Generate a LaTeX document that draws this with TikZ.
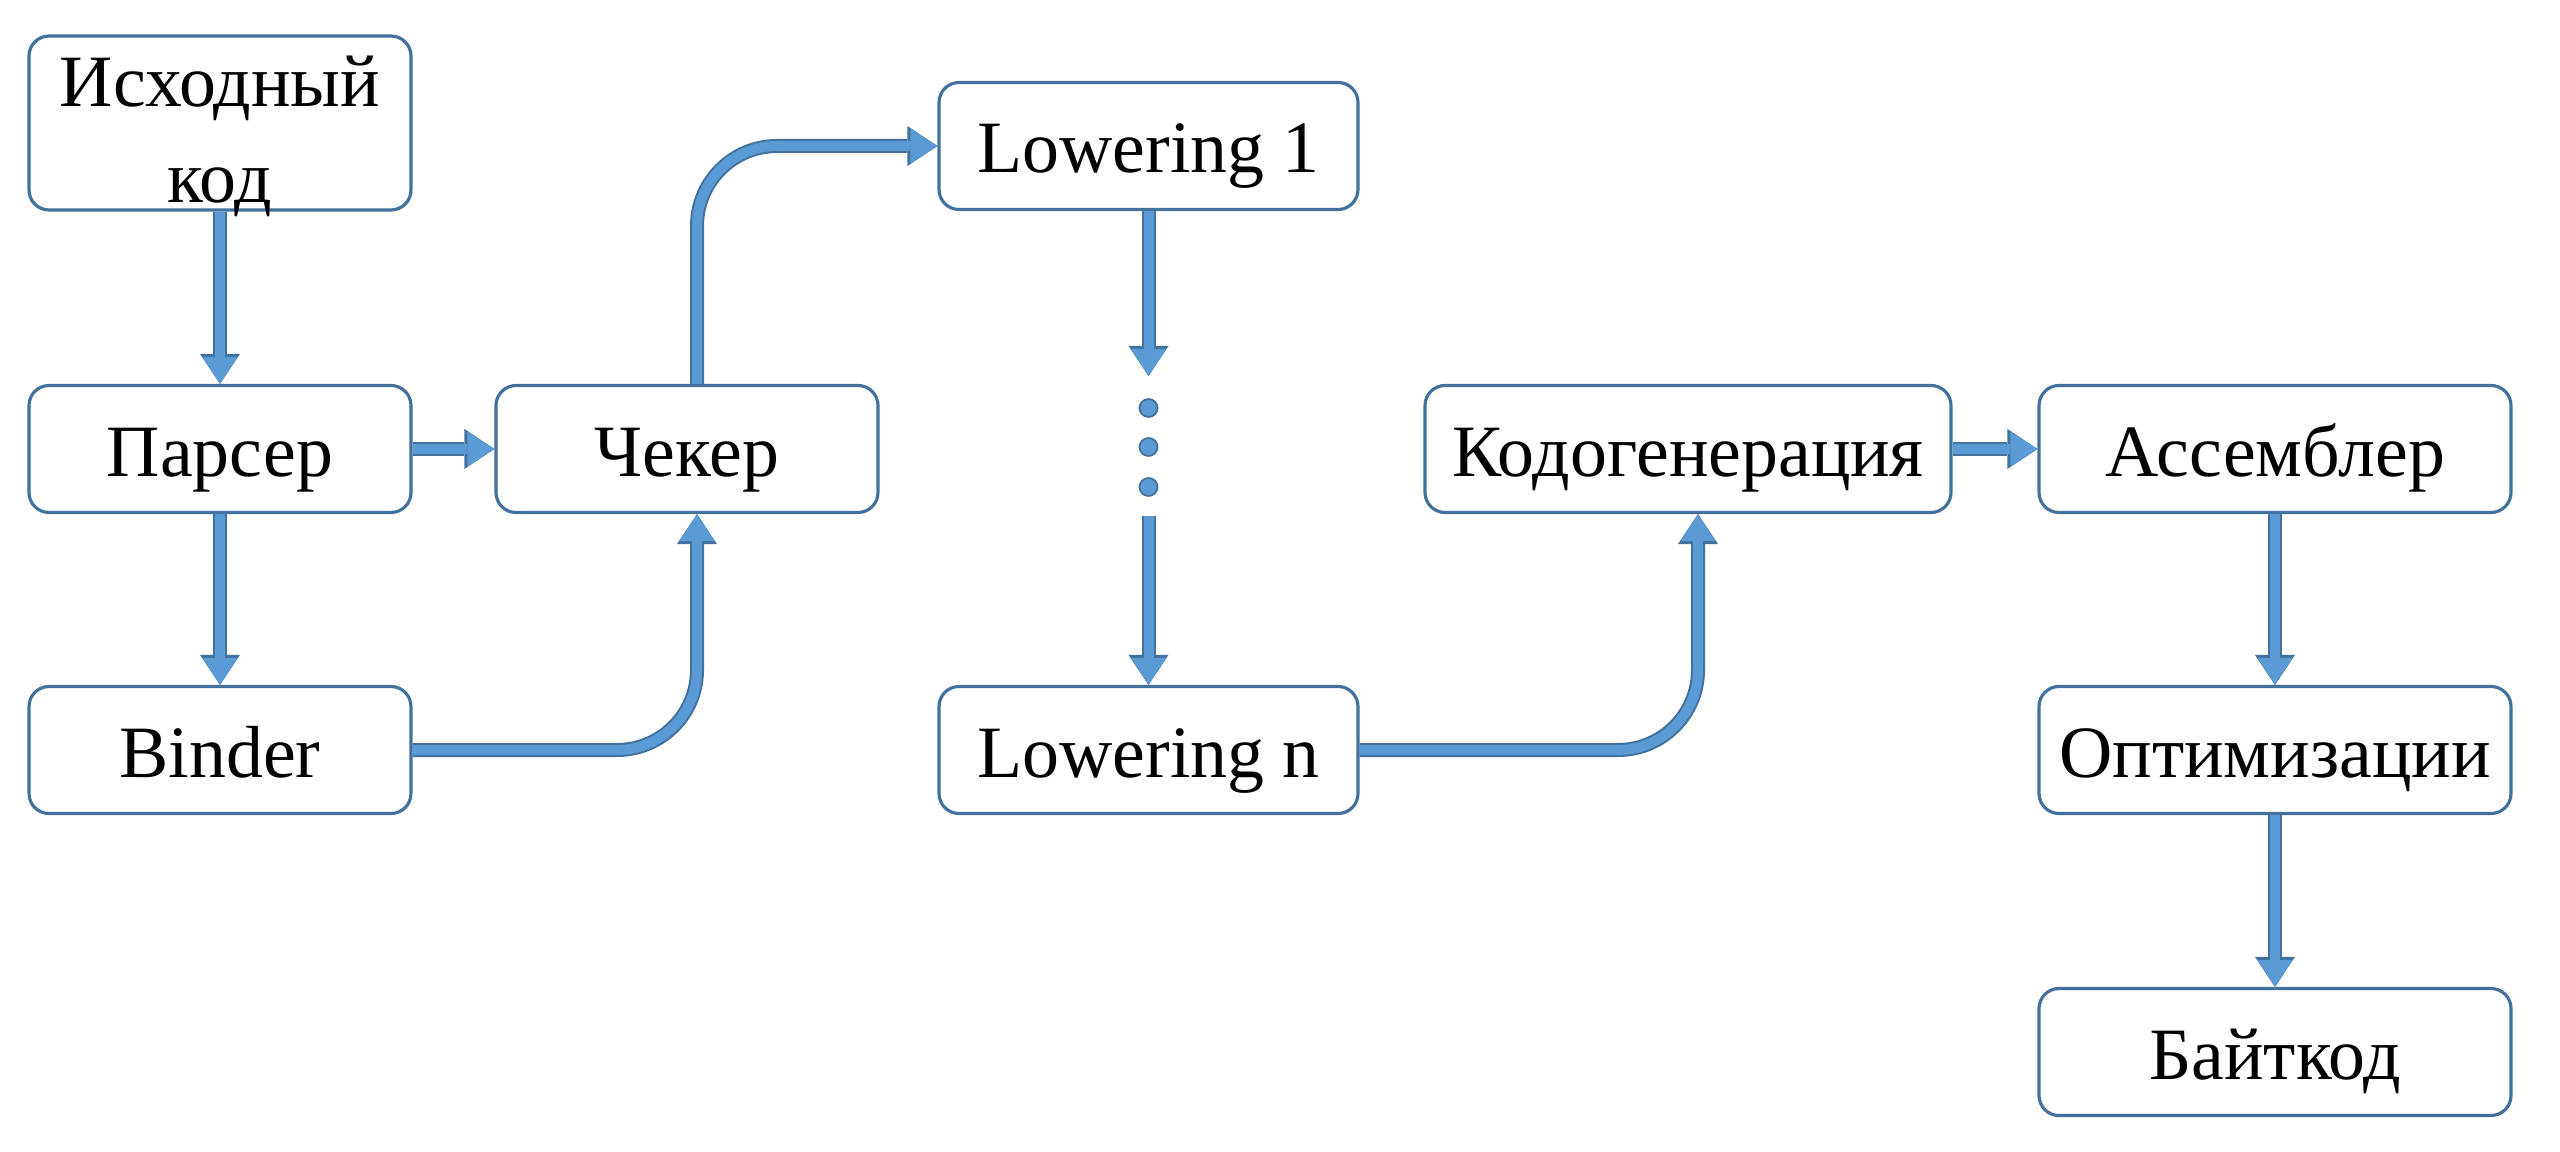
\documentclass[tikz,border=0pt]{standalone}
\usepackage{fontspec}
\setmainfont{Liberation Serif}
\usetikzlibrary{arrows.meta,positioning,calc}
\definecolor{boxedge}{HTML}{41719C}
\definecolor{flowfill}{HTML}{5B9BD5}

\begin{document}
\begin{tikzpicture}[
    stage/.style={rectangle, draw=boxedge, line width=0.9pt, fill=white, rounded corners=0.2cm, minimum height=1.27cm, text centered, align=center, text height=0.54cm, text depth=0cm, font=\fontsize{21}{27.5}\selectfont},
    flow/.style={draw=flowfill, line width=0.1cm, -{Triangle[width=0.35cm, length=0.27cm, line width=0pt, fill=flowfill]},
        preaction={draw=boxedge, line width=0.14cm, -{Triangle[width=0.40cm, length=0.30cm, line width=0pt, fill=boxedge]}}},
    elbow/.style={flow, rounded corners=0.8cm},
    dot/.style={circle, draw=boxedge, line width=0.5pt, fill=flowfill, inner sep=0pt, minimum size=0.18cm}
]

\useasboundingbox (0,0) rectangle (25.6,-11.52);

% Stages
\node[stage, minimum width=3.82cm, minimum height=1.74cm, text height=1.6cm, inner ysep=0.05cm] (source) at (2.20,-1.23) {Исходный\\код};
\node[stage, minimum width=3.82cm] (parser) at (2.20,-4.49) {Парсер};
\node[stage, minimum width=3.82cm] (binder) at (2.20,-7.50) {Binder};
\node[stage, minimum width=3.82cm] (checker) at (6.87,-4.49) {Чекер};
\node[stage, minimum width=4.19cm] (lowone) at (11.485,-1.46) {Lowering 1};
\node[stage, minimum width=4.19cm] (lowlast) at (11.485,-7.50) {Lowering n};
\node[stage, minimum width=5.26cm] (codegen) at (16.88,-4.49) {Кодогенерация};
\node[stage, minimum width=4.72cm] (assembler) at (22.75,-4.49) {Ассемблер};
\node[stage, minimum width=4.72cm] (optim) at (22.75,-7.50) {Оптимизации};
\node[stage, minimum width=4.72cm] (bytecode) at (22.75,-10.52) {Байткод};

% Ellipsis between lowerings
\coordinate (gaptop) at (11.485,-3.76);
\coordinate (gapbot) at (11.485,-5.16);
\node[dot] (dotone) at (11.485,-4.08) {};
\node[dot] (dottwo) at (11.485,-4.47) {};
\node[dot] (dotthree) at (11.485,-4.87) {};

% Flow
\draw[flow] (source) -- (parser);
\draw[flow] (parser) -- (binder);
\draw[flow] (parser) -- (checker);
\draw[elbow] (binder.east) -| ([xshift=0.1cm]checker.south);
\draw[elbow] ([xshift=0.1cm]checker.north) |- (lowone.west);
\draw[flow] (lowone) -- (gaptop);
\draw[flow] (gapbot) -- (lowlast);
\draw[elbow] (lowlast.east) -| ([xshift=0.1cm]codegen.south);
\draw[flow] (codegen) -- (assembler);
\draw[flow] (assembler) -- (optim);
\draw[flow] (optim) -- (bytecode);

\end{tikzpicture}
\end{document}
